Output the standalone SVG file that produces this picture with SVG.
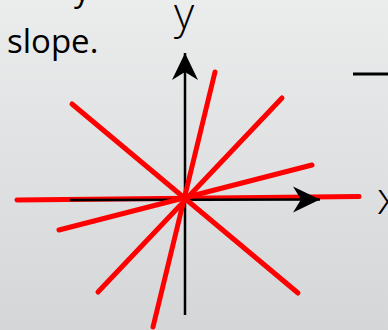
<svg xmlns="http://www.w3.org/2000/svg" width="388" height="330" viewBox="0 0 388 330">
  <defs>
    <linearGradient id="bg" x1="0" y1="0" x2="0" y2="1">
      <stop offset="0" stop-color="#ebecec"/>
      <stop offset="1" stop-color="#d4d6d8"/>
    </linearGradient>
    <marker id="arrow" markerUnits="userSpaceOnUse" markerWidth="30" markerHeight="30" viewBox="-28 -15 30 30" refX="0" refY="0" orient="auto">
      <path d="M0,0 L-27,-13 L-19,0 L-27,13 Z" fill="#000"/>
    </marker>
    <style>
      .txt { font-family: "Open Sans", "Noto Sans", "Liberation Sans", sans-serif; fill: #000; }
      .axis { stroke: #000; stroke-width: 2.5; fill: none; }
      .red { stroke: #ff0000; stroke-width: 5; stroke-linecap: round; fill: none; }
    </style>
  </defs>
  <rect x="0" y="0" width="388" height="330" fill="url(#bg)"/>

  <g id="caption">
    <text class="txt" x="74" y="1" font-size="32">y</text>
    <text class="txt" x="7" y="53" font-size="33">slope.</text>
  </g>

  <g id="fragment">
    <line x1="353" y1="74" x2="388" y2="74" stroke="#000" stroke-width="3"/>
  </g>

  <g id="connectors">
    <line id="line-horizontal" class="red" x1="17" y1="200" x2="359" y2="196.5"/>
    <line id="x-axis" class="axis" x1="70" y1="200" x2="320" y2="199.5" marker-end="url(#arrow)"/>
    <line id="y-axis" class="axis" x1="185" y1="315" x2="185" y2="53" marker-end="url(#arrow)"/>
    <line id="line-neg1" class="red" x1="72" y1="104" x2="298" y2="293"/>
    <line id="line-pos1" class="red" x1="98" y1="292" x2="282" y2="98"/>
    <line id="line-steep" class="red" x1="153" y1="327" x2="215" y2="72"/>
    <line id="line-shallow" class="red" x1="59" y1="230" x2="312" y2="165"/>
  </g>

  <g id="labels">
    <text class="txt" x="174" y="29" font-size="44" font-weight="300">y</text>
    <text class="txt" x="377" y="214" font-size="44" font-weight="300">x</text>
  </g>
</svg>
